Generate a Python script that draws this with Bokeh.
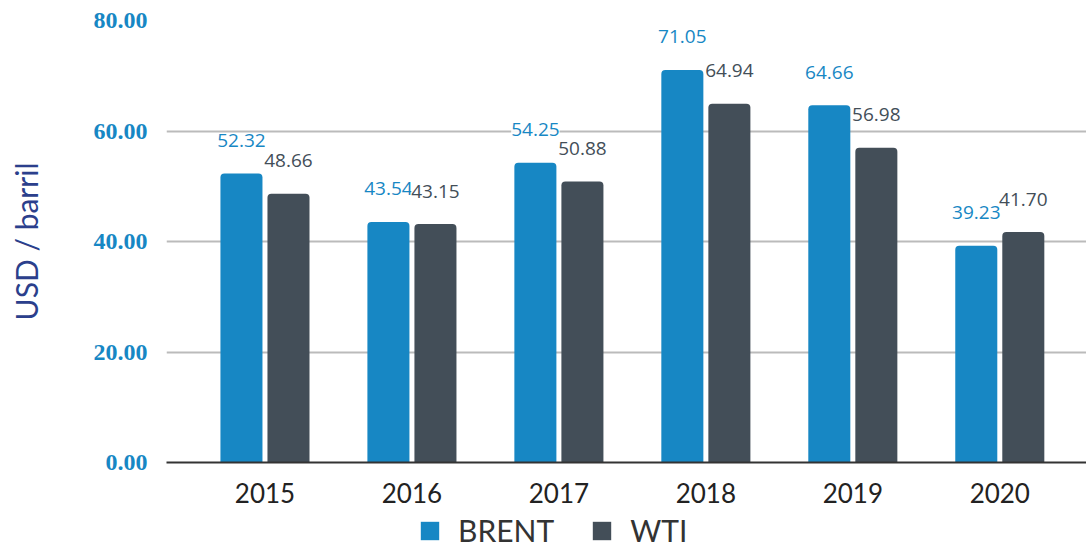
from bokeh.plotting import figure
from bokeh.layouts import column
from bokeh.models import ColumnDataSource, Legend, LegendItem, FixedTicker
from bokeh.core.properties import value
from bokeh.embed import file_html
from bokeh.resources import INLINE

years = ["2015", "2016", "2017", "2018", "2019", "2020"]
brent = [52.32, 43.54, 54.25, 71.05, 64.66, 39.23]
wti = [48.66, 43.15, 50.88, 64.94, 56.98, 41.70]
series = ["BRENT", "WTI"]
y_ticks = [0, 20, 40, 60, 80]

BLUE = "#1787c4"
DARK = "#434e58"

idx = list(range(len(years)))
off = 0.16
bw = 0.286
src_b = ColumnDataSource(dict(x=[i - off for i in idx], top=brent, lab=[f"{v:.2f}" for v in brent]))
src_w = ColumnDataSource(dict(x=[i + off for i in idx], top=wti, lab=[f"{v:.2f}" for v in wti]))

p = figure(frame_width=920, frame_height=442,
           x_range=(-0.67, 5.59), y_range=(0, 80),
           output_backend="svg", toolbar_location=None,
           min_border_left=166, min_border_right=0, min_border_top=20, min_border_bottom=46)
p.outline_line_color = None
p.background_fill_color = "white"

rb = p.vbar(x="x", top="top", width=bw, source=src_b, fill_color=BLUE, line_color=None,
            border_radius=(4, 4, 0, 0))
rw = p.vbar(x="x", top="top", width=bw, source=src_w, fill_color=DARK, line_color=None,
            border_radius=(4, 4, 0, 0))

for src, col in ((src_b, BLUE), (src_w, DARK)):
    p.text(x="x", y="top", text="lab", source=src, text_align="center", text_baseline="middle",
           y_offset=-33, text_font=value("Open Sans"), text_font_size="19px", text_color=col,
           background_fill_color="white", background_fill_alpha=0.9)

# axes
p.xaxis.ticker = FixedTicker(ticks=idx)
p.xaxis.major_label_overrides = {i: y for i, y in zip(idx, years)}
p.xaxis.major_tick_line_color = None
p.xaxis.minor_tick_line_color = None
p.xaxis.axis_line_color = "#333333"
p.xaxis.axis_line_width = 2
p.xaxis.major_label_text_font = "Lato"
p.xaxis.major_label_text_font_size = "26px"
p.xaxis.major_label_text_color = "#222222"
p.xaxis.major_label_standoff = 14

p.yaxis.ticker = FixedTicker(ticks=y_ticks)
p.yaxis.major_label_overrides = {t: f"{t:.2f}" for t in y_ticks}
p.yaxis.major_tick_line_color = None
p.yaxis.minor_tick_line_color = None
p.yaxis.axis_line_color = None
p.yaxis.major_label_text_font = "Liberation Serif"
p.yaxis.major_label_text_font_style = "bold"
p.yaxis.major_label_text_font_size = "24px"
p.yaxis.major_label_text_color = BLUE
p.yaxis.major_label_standoff = 13
p.yaxis.axis_label = "USD / barril"
p.yaxis.axis_label_text_font = "Lato"
p.yaxis.axis_label_text_font_style = "normal"
p.yaxis.axis_label_text_font_size = "30px"
p.yaxis.axis_label_text_color = "#2b3f8c"
p.yaxis.axis_label_standoff = 47

p.xgrid.grid_line_color = None
p.ygrid.grid_line_color = "#bbbbbb"
p.ygrid.grid_line_width = 2

# legend strip below the chart
p2 = figure(width=1086, height=40, x_range=(0, 1), y_range=(0, 1),
            x_axis_type=None, y_axis_type=None,
            output_backend="svg", toolbar_location=None,
            min_border_left=0, min_border_right=0, min_border_top=0, min_border_bottom=0)
p2.outline_line_color = None
p2.grid.grid_line_color = None
p2.border_fill_color = "white"
lb = p2.vbar(x=[0.5], top=[0], width=0.1, fill_color=BLUE, line_color=None)
lw = p2.vbar(x=[0.5], top=[0], width=0.1, fill_color=DARK, line_color=None)
legend = Legend(items=[LegendItem(label=series[0], renderers=[lb]), LegendItem(label=series[1], renderers=[lw])],
                orientation="horizontal", location=(252, 0),
                label_text_font="Lato", label_text_font_size="30px", label_text_color="#333333",
                label_height=24, glyph_width=23, glyph_height=23, spacing=36, label_standoff=17,
                border_line_color=None, background_fill_alpha=0, margin=0, padding=0)
p2.add_layout(legend, "center")

layout = column(p, p2, spacing=0)
open("out.html", "w").write(file_html(layout, INLINE))
